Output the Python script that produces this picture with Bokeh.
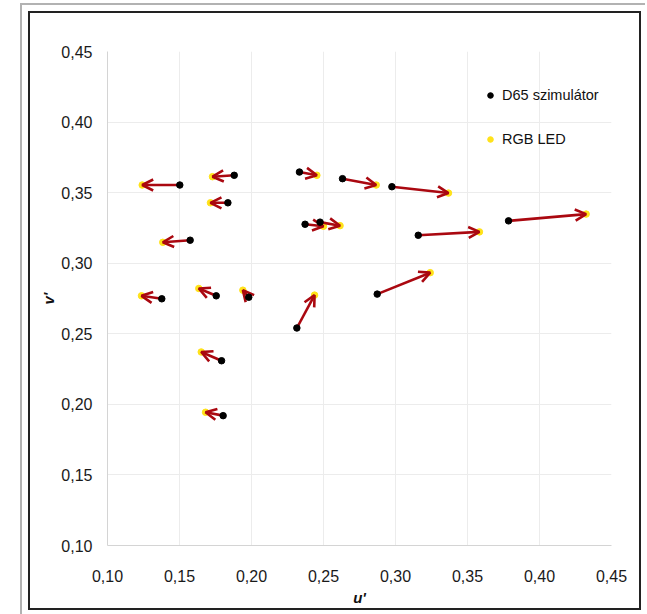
from bokeh.plotting import figure
from bokeh.models import (ColumnDataSource, Arrow, OpenHead, Legend, LegendItem,
                          FixedTicker, Range1d)
from bokeh.embed import file_html
from bokeh.resources import INLINE

# D65 simulator (start) and RGB LED (end) chromaticity coordinates u', v'
d65_u = [0.1502, 0.1880, 0.1836, 0.1574, 0.1377, 0.1755, 0.1981, 0.2315, 0.1792,
         0.1803, 0.2333, 0.2632, 0.2975, 0.2372, 0.2476, 0.3158, 0.3785, 0.2873]
d65_v = [0.3554, 0.3623, 0.3428, 0.3163, 0.2748, 0.2769, 0.2759, 0.2541, 0.2309,
         0.1920, 0.3646, 0.3599, 0.3542, 0.3276, 0.3291, 0.3198, 0.3300, 0.2781]
led_u = [0.1241, 0.1729, 0.1715, 0.1384, 0.1236, 0.1634, 0.1940, 0.2438, 0.1651,
         0.1681, 0.2454, 0.2866, 0.3368, 0.2500, 0.2615, 0.3583, 0.4324, 0.3241]
led_v = [0.3554, 0.3613, 0.3428, 0.3148, 0.2769, 0.2821, 0.2809, 0.2774, 0.2371,
         0.1944, 0.3623, 0.3554, 0.3497, 0.3262, 0.3266, 0.3222, 0.3348, 0.2933]

x_ticks = [0.10, 0.15, 0.20, 0.25, 0.30, 0.35, 0.40, 0.45]
x_tick_labels = ["0,10", "0,15", "0,20", "0,25", "0,30", "0,35", "0,40", "0,45"]
y_ticks = [0.10, 0.15, 0.20, 0.25, 0.30, 0.35, 0.40, 0.45]
y_tick_labels = ["0,10", "0,15", "0,20", "0,25", "0,30", "0,35", "0,40", "0,45"]

series_names = ["D65 szimulátor", "RGB LED"]
x_title = "u'"
y_title = "v'"

FONT = "Liberation Sans"
ARROW_COLOR = "#aa0810"
YELLOW = "#ffe21a"

src = ColumnDataSource(dict(xs=d65_u, ys=d65_v, xe=led_u, ye=led_v))

p = figure(width=609, height=595, output_backend="svg", toolbar_location=None,
           x_range=Range1d(0.10, 0.45), y_range=Range1d(0.10, 0.45),
           min_border_left=77, min_border_right=28, min_border_top=38,
           min_border_bottom=63)
p.margin = (13, 0, 0, 30)
p.styles = {"box-shadow": "0 0 0 2px #222222, 0 0 0 8px #ffffff, -2px -2px 0 8px #b2b2b2"}
p.outline_line_color = None
p.background_fill_color = "white"
p.border_fill_color = "white"

for ax, ticks, labels in ((p.xaxis[0], x_ticks, x_tick_labels), (p.yaxis[0], y_ticks, y_tick_labels)):
    ax.ticker = FixedTicker(ticks=ticks)
    ax.major_label_overrides = {t: l for t, l in zip(ticks, labels)}
    ax.major_tick_line_color = None
    ax.minor_tick_line_color = None
    ax.major_tick_out = 0
    ax.major_tick_in = 0
    ax.axis_line_color = "#d4d4d4"
    ax.major_label_text_font = FONT
    ax.major_label_text_font_size = "16px"
    ax.major_label_text_color = "#1a1a1a"
    ax.axis_label_text_font = FONT
    ax.axis_label_text_font_size = "15px"
    ax.axis_label_text_font_style = "bold italic"
    ax.axis_label_text_color = "#111111"

p.xaxis.axis_label = x_title
p.yaxis.axis_label = y_title
p.xaxis.major_label_standoff = 24
p.yaxis.major_label_standoff = 15
p.xaxis.axis_label_standoff = 4
p.yaxis.axis_label_standoff = 1

p.xgrid.grid_line_color = "#ececec"
p.ygrid.grid_line_color = "#ececec"
p.xgrid.ticker = FixedTicker(ticks=x_ticks)
p.ygrid.ticker = FixedTicker(ticks=y_ticks)

r_led = p.scatter("xe", "ye", source=src, size=6.5, color=YELLOW, line_color=YELLOW)
arrows = Arrow(x_start="xs", y_start="ys", x_end="xe", y_end="ye", source=src,
               line_color=ARROW_COLOR, line_width=2.6,
               end=OpenHead(size=11, line_color=ARROW_COLOR, line_width=2.6))
p.add_layout(arrows)
r_d65 = p.scatter("xs", "ys", source=src, size=6.5, color="black", line_color="black")
r_d65.level = "overlay"

legend = Legend(items=[LegendItem(label=series_names[0], renderers=[r_d65]),
                       LegendItem(label=series_names[1], renderers=[r_led])],
                location=(376, 396), border_line_color=None, background_fill_alpha=0,
                label_text_font=FONT, label_text_font_size="14.5px",
                label_text_color="#111111", glyph_width=14, glyph_height=20,
                label_height=20, spacing=24, padding=10, margin=0, label_standoff=5)
p.add_layout(legend)

html = file_html(p, INLINE)
html = html.replace("<body>", '<body style="background-color:#e1e1e1;">', 1)
open("out.html", "w").write(html)
